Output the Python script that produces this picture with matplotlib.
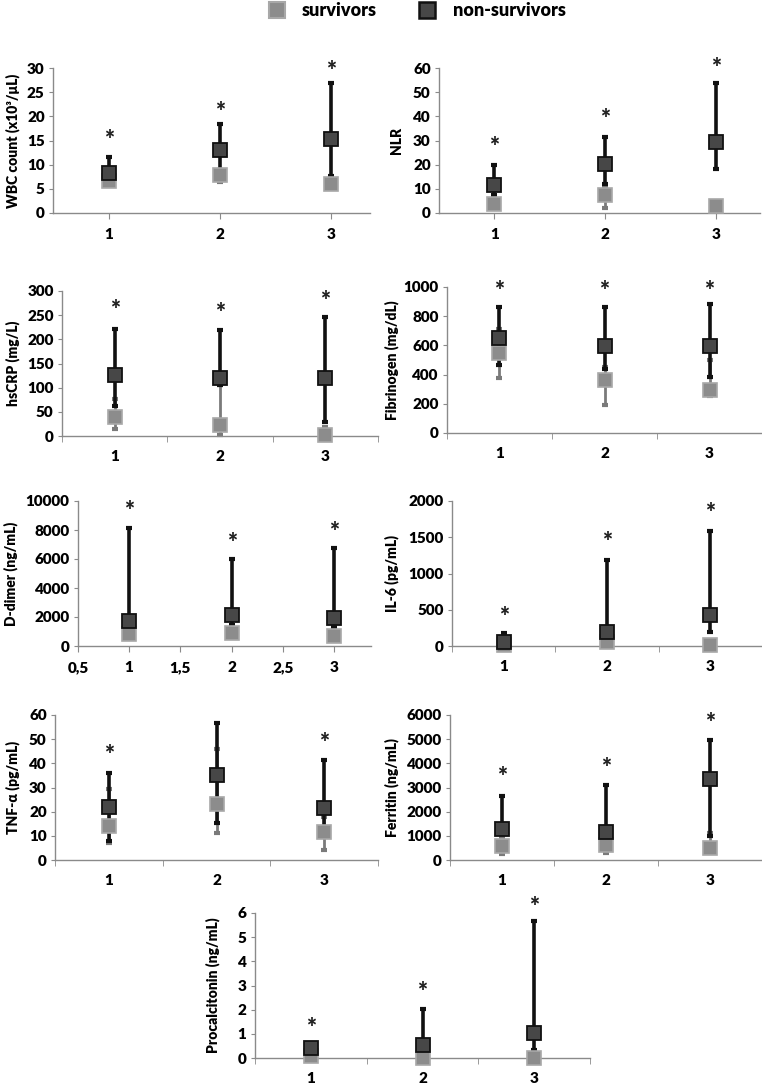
import matplotlib.pyplot as plt
from matplotlib.lines import Line2D

# ---------- data ----------
days = [1, 2, 3]

wbc_surv = [6.7, 7.8, 6.1]
wbc_surv_lo = [6.0, 6.5, 5.4]
wbc_surv_hi = [7.2, 8.3, 7.4]
wbc_non = [8.3, 13.0, 15.4]
wbc_non_lo = [6.8, 9.0, 7.7]
wbc_non_hi = [11.5, 18.5, 26.8]
wbc_star = [15.0, 21.0, 29.3]

nlr_surv = [3.9, 7.3, 2.8]
nlr_surv_lo = [3.0, 2.1, 2.0]
nlr_surv_hi = [5.0, 11.3, 3.5]
nlr_non = [11.4, 20.4, 29.4]
nlr_non_lo = [7.6, 12.1, 18.3]
nlr_non_hi = [20.0, 31.4, 53.8]
nlr_star = [27.4, 38.8, 60.0]

crp_surv = [39, 22, 3]
crp_surv_lo = [15, 3, 0]
crp_surv_hi = [77, 105, 19]
crp_non = [127, 121, 121]
crp_non_lo = [62, 105, 28]
crp_non_hi = [222, 219, 246]
crp_star = [260, 254, 280]

fib_surv = [548, 361, 297]
fib_surv_lo = [380, 194, 251]
fib_surv_hi = [715, 450, 502]
fib_non = [651, 594, 594]
fib_non_lo = [468, 440, 384]
fib_non_hi = [863, 863, 886]
fib_star = [975, 975, 975]

dd_surv = [830, 875, 690]
dd_surv_lo = [550, 600, 450]
dd_surv_hi = [1100, 1150, 950]
dd_non = [1720, 2140, 1930]
dd_non_lo = [1300, 1450, 1330]
dd_non_hi = [8160, 6000, 6760]
dd_star = [9330, 7120, 7880]

il6_surv = [10, 50, 10]
il6_surv_lo = [0, 20, 0]
il6_surv_hi = [30, 90, 30]
il6_non = [60, 197, 428]
il6_non_lo = [0, 60, 197]
il6_non_hi = [183, 1186, 1586]
il6_star = [404, 1440, 1830]

tnf_surv = [14.2, 23.2, 11.7]
tnf_surv_lo = [6.9, 11.3, 4.1]
tnf_surv_hi = [29.4, 46.0, 18.0]
tnf_non = [21.8, 35.2, 21.4]
tnf_non_lo = [8.0, 15.4, 12.0]
tnf_non_hi = [36.1, 56.8, 41.4]
tnf_star = [43.4, None, 48.6]

fer_surv = [580, 620, 480]
fer_surv_lo = [250, 300, 350]
fer_surv_hi = [950, 900, 1130]
fer_non = [1270, 1170, 3340]
fer_non_lo = [1080, 970, 990]
fer_non_hi = [2650, 3100, 4970]
fer_star = [3420, 3800, 5660]

pct_surv = [0.10, 0.0, 0.0]
pct_surv_lo = [0.05, 0.0, 0.0]
pct_surv_hi = [0.15, 0.05, 0.05]
pct_non = [0.41, 0.55, 1.03]
pct_non_lo = [0.30, 0.32, 0.34]
pct_non_hi = [0.50, 2.03, 5.66]
pct_star = [1.24, 2.72, 6.25]

W, H = 762, 1085
fig = plt.figure(figsize=(W / 100, H / 100), dpi=100)

c_surv = "#8c8c8c"
c_surv_edge = "#a8a8a8"
c_non = "#474747"
fam = ["Lato", "DejaVu Sans"]
tick_font = {"family": fam, "weight": "heavy", "size": 11}
label_font = {"family": fam, "weight": "heavy", "size": 10}


def panel(box, label_x, ylabel, ymax, ystep, surv, s_lo, s_hi, non, n_lo, n_hi, star,
          xmax=3.5, tick_at_cat=False, half_ticks=False):
    l, r, t, b = box
    ax = fig.add_axes([l / W, 1 - b / H, (r - l) / W, (b - t) / H])
    ax.set_xlim(0.5, xmax)
    ax.set_ylim(0, ymax)
    ax.set_yticks([ystep * i for i in range(int(round(ymax / ystep)) + 1)])
    for s in ["top", "right"]:
        ax.spines[s].set_visible(False)
    for s in ["left", "bottom"]:
        ax.spines[s].set_color("#8a8a8a")
        ax.spines[s].set_linewidth(1.0)
    ax.tick_params(axis="y", length=3, color="#8a8a8a", pad=3)
    if half_ticks:
        ax.set_xticks([0.5, 1, 1.5, 2, 2.5, 3])
        ax.set_xticklabels(["0,5", "1", "1,5", "2", "2,5", "3"])
        ax.tick_params(axis="x", length=4, color="#8a8a8a", pad=7)
    elif tick_at_cat:
        ax.set_xticks(days)
        ax.set_xticklabels([str(d) for d in days])
        ax.tick_params(axis="x", length=4, color="#8a8a8a", pad=7)
    else:
        ax.set_xticks(days)
        ax.set_xticklabels([str(d) for d in days])
        ax.set_xticks([0.5, 1.5, 2.5, 3.5], minor=True)
        ax.tick_params(axis="x", which="major", length=0, pad=10)
        ax.tick_params(axis="x", which="minor", length=4, color="#8a8a8a")
    for lab in ax.get_xticklabels() + ax.get_yticklabels():
        lab.set_fontproperties(tick_font)

    se = [[v - lo for v, lo in zip(surv, s_lo)], [hi - v for v, hi in zip(surv, s_hi)]]
    ne = [[v - lo for v, lo in zip(non, n_lo)], [hi - v for v, hi in zip(non, n_hi)]]
    ax.errorbar(days, surv, yerr=se, fmt="none", ecolor="#7a7a7a", elinewidth=2,
                capsize=2.5, capthick=3, zorder=2, clip_on=False)
    ax.errorbar(days, non, yerr=ne, fmt="none", ecolor="#111111", elinewidth=2.6,
                capsize=2.5, capthick=3, zorder=3, clip_on=False)
    ax.plot(days, surv, "s", ms=9.5, mfc=c_surv, mec=c_surv_edge, mew=1.2,
            linestyle="none", zorder=4, clip_on=False)
    ax.plot(days, non, "s", ms=9.5, mfc=c_non, mec="#111111", mew=1.3,
            linestyle="none", zorder=5, clip_on=False)
    for d, sy in zip(days, star):
        if sy is not None:
            ax.text(d, sy, "*", ha="center", va="center", fontsize=17,
                    fontweight="heavy", family=fam, color="#222222", clip_on=False)
    fig.text(label_x / W, 1 - (t + b) / 2 / H, ylabel, rotation=90,
             ha="center", va="center", **label_font)
    return ax


panel((53, 370, 68, 213), 13, "WBC count (x10³/μL)", 30, 5,
      wbc_surv, wbc_surv_lo, wbc_surv_hi, wbc_non, wbc_non_lo, wbc_non_hi, wbc_star,
      xmax=3.35, tick_at_cat=True)
panel((439, 760, 68, 213), 396, "NLR", 60, 10,
      nlr_surv, nlr_surv_lo, nlr_surv_hi, nlr_non, nlr_non_lo, nlr_non_hi, nlr_star,
      xmax=3.4, tick_at_cat=True)
panel((62, 378, 291, 436), 13, "hsCRP (mg/L)", 300, 50,
      crp_surv, crp_surv_lo, crp_surv_hi, crp_non, crp_non_lo, crp_non_hi, crp_star)
panel((447, 762, 287, 433), 392, "Fibrinogen (mg/dL)", 1000, 200,
      fib_surv, fib_surv_lo, fib_surv_hi, fib_non, fib_non_lo, fib_non_hi, fib_star)
panel((78, 371, 501, 646), 11, "D-dimer (ng/mL)", 10000, 2000,
      dd_surv, dd_surv_lo, dd_surv_hi, dd_non, dd_non_lo, dd_non_hi, dd_star,
      xmax=3.36, half_ticks=True)
panel((452, 762, 501, 646), 392, "IL-6 (pg/mL)", 2000, 500,
      il6_surv, il6_surv_lo, il6_surv_hi, il6_non, il6_non_lo, il6_non_hi, il6_star)
panel((55, 378, 715, 860), 13, "TNF-α (pg/mL)", 60, 10,
      tnf_surv, tnf_surv_lo, tnf_surv_hi, tnf_non, tnf_non_lo, tnf_non_hi, tnf_star)
panel((450, 762, 715, 860), 392, "Ferritin (ng/mL)", 6000, 1000,
      fer_surv, fer_surv_lo, fer_surv_hi, fer_non, fer_non_lo, fer_non_hi, fer_star)
panel((255, 590, 913, 1058), 213, "Procalcitonin (ng/mL)", 6, 1,
      pct_surv, pct_surv_lo, pct_surv_hi, pct_non, pct_non_lo, pct_non_hi, pct_star)

# legend on top
handles = [
    Line2D([], [], marker="s", ms=11, mfc=c_surv, mec=c_surv_edge, mew=1.5, linestyle="none"),
    Line2D([], [], marker="s", ms=11, mfc=c_non, mec="#111111", mew=1.8, linestyle="none"),
]
fig.legend(handles, ["survivors", "non-survivors"], loc="center", ncol=2,
           bbox_to_anchor=(412 / W, 1 - 11 / H), frameon=False, columnspacing=1.8,
           handletextpad=0.4, prop={"family": fam, "weight": "heavy", "size": 13})

fig.savefig("out.png", dpi=100)
